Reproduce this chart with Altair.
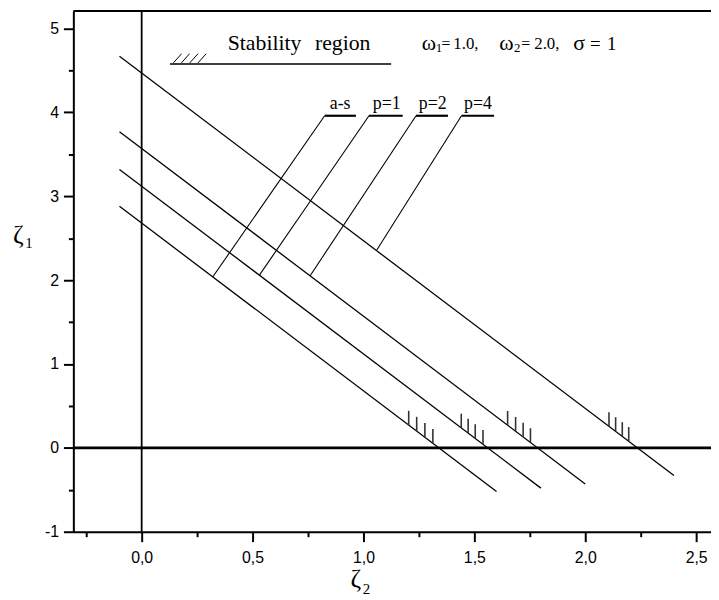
import altair as alt
import pandas as pd

# ---- curves (straight stability boundaries) ----
curve_names = ["a-s", "p=1", "p=2", "p=4"]
x_start = [-0.1, -0.1, -0.1, -0.1]
y_start = [2.88, 3.32, 3.77, 4.67]
x_end = [1.60, 1.80, 2.00, 2.40]
y_end = [-0.52, -0.48, -0.43, -0.33]

# hatch ticks near the zero crossing of each curve
hatch_x = [
    [1.204, 1.240, 1.277, 1.313],
    [1.441, 1.472, 1.504, 1.539],
    [1.650, 1.686, 1.720, 1.753],
    [2.107, 2.137, 2.167, 2.196],
]
hatch_len = 0.17

# leader lines from curve to label underline
leader_x0 = [0.321, 0.531, 0.759, 1.058]
leader_y0 = [2.04, 2.06, 2.05, 2.35]
leader_x1 = [0.825, 1.025, 1.237, 1.442]
leader_y1 = [3.96, 3.96, 3.96, 3.96]
underline_x2 = [0.966, 1.177, 1.381, 1.589]
label_x = [0.895, 1.105, 1.3125, 1.516]
label_y = [4.044, 4.044, 4.044, 4.044]

# legend "Stability region" symbol
legend_line_x = [0.128, 1.125]
legend_line_y = 4.578
legend_hatch_x0 = [0.143, 0.179, 0.217, 0.254]
legend_hatch_x1 = [0.180, 0.216, 0.254, 0.291]
legend_hatch_y0 = 4.59
legend_hatch_y1 = 4.70

# free annotation texts
ann_text = ["Stability", "region", "ω", "1", "=", "1.0,", "ω", "2", "=", "2.0,",
            "σ", "=", "1", "ζ", "1", "ζ", "2"]
ann_x = [0.388, 0.781, 1.263, 1.326, 1.352, 1.405, 1.612, 1.679, 1.712, 1.770,
         1.946, 2.022, 2.098, -0.580, -0.525, 0.942, 0.997]
ann_y = [4.748, 4.748, 4.748, 4.716, 4.752, 4.752, 4.748, 4.716, 4.752, 4.752,
         4.748, 4.748, 4.748, 2.438, 2.379, -1.66, -1.74]
ann_size = [22, 22, 22, 13, 16, 17, 22, 13, 16, 17, 22, 19, 19, 26, 15, 26, 15]

x_major = [0.0, 0.5, 1.0, 1.5, 2.0, 2.5]
x_minor = [-0.25, 0.25, 0.75, 1.25, 1.75, 2.25]
y_major = [-1, 0, 1, 2, 3, 4, 5]
y_minor = [-0.5, 0.5, 1.5, 2.5, 3.5, 4.5]

X_DOMAIN = [-0.308, 2.567]
Y_DOMAIN = [-1.0, 5.21]
W, H = 644, 526

# ---- build tables ----
rows = []
for n, xs, ys, xe, ye in zip(curve_names, x_start, y_start, x_end, y_end):
    rows.append({"curve": n, "x": xs, "y": ys})
    rows.append({"curve": n, "x": xe, "y": ye})
curves_df = pd.DataFrame(rows)

hrows = []
for n, xs, ys, xe, ye, hx in zip(curve_names, x_start, y_start, x_end, y_end, hatch_x):
    slope = (ye - ys) / (xe - xs)
    for h in hx:
        base = ys + slope * (h - xs)
        hrows.append({"x": h, "y": base, "y2": base + hatch_len})
hatch_df = pd.DataFrame(hrows)

leader_df = pd.DataFrame({"x": leader_x0, "y": leader_y0, "x2": leader_x1, "y2": leader_y1})
under_df = pd.DataFrame({"x": leader_x1, "x2": underline_x2, "y": leader_y1})
labels_df = pd.DataFrame({"x": label_x, "y": label_y, "t": curve_names})
leg_line_df = pd.DataFrame({"x": [legend_line_x[0]], "x2": [legend_line_x[1]], "y": [legend_line_y]})
leg_hatch_df = pd.DataFrame({"x": legend_hatch_x0, "x2": legend_hatch_x1,
                             "y": [legend_hatch_y0] * 4, "y2": [legend_hatch_y1] * 4})
ann_df = pd.DataFrame({"x": ann_x, "y": ann_y, "t": ann_text, "s": ann_size})

xs_ = alt.Scale(domain=X_DOMAIN, nice=False, zero=False)
ys_ = alt.Scale(domain=Y_DOMAIN, nice=False, zero=False)

ax_common = dict(grid=False, title=None, domainColor="black", tickColor="black",
                 labelColor="black", labelFont="Liberation Sans", labelFontSize=16,
                 domainWidth=2, tickWidth=2)

x_major_axis = alt.Axis(orient="bottom", values=x_major, tickSize=10, labelPadding=8,
                        labelExpr="replace(format(datum.value, '.1f'), '.', ',')",
                        **ax_common)
y_major_axis = alt.Axis(orient="left", values=y_major, tickSize=10, labelPadding=5,
                        labelExpr="datum.value + ''", **ax_common)
x_minor_axis = alt.Axis(orient="bottom", values=x_minor, tickSize=5, labels=False,
                        domain=False, grid=False, title=None, tickColor="black", tickWidth=2)
y_minor_axis = alt.Axis(orient="left", values=y_minor, tickSize=5, labels=False,
                        domain=False, grid=False, title=None, tickColor="black", tickWidth=2)

curves = alt.Chart(curves_df).mark_line(color="black", strokeWidth=1.3).encode(
    x=alt.X("x:Q", scale=xs_, axis=x_major_axis),
    y=alt.Y("y:Q", scale=ys_, axis=y_major_axis),
    detail="curve:N",
)

hatch = alt.Chart(hatch_df).mark_rule(color="#333333", strokeWidth=1.6).encode(
    x=alt.X("x:Q", scale=xs_, axis=x_minor_axis),
    y=alt.Y("y:Q", scale=ys_, axis=y_minor_axis),
    y2="y2:Q",
)

leaders = alt.Chart(leader_df).mark_rule(color="black", strokeWidth=1.1).encode(
    x=alt.X("x:Q", scale=xs_, axis=None),
    y=alt.Y("y:Q", scale=ys_, axis=None),
    x2="x2:Q", y2="y2:Q",
)

unders = alt.Chart(under_df).mark_rule(color="black", strokeWidth=2.2).encode(
    x=alt.X("x:Q", scale=xs_, axis=None),
    x2="x2:Q",
    y=alt.Y("y:Q", scale=ys_, axis=None),
)

leg_line = alt.Chart(leg_line_df).mark_rule(color="black", strokeWidth=1.5).encode(
    x=alt.X("x:Q", scale=xs_, axis=None),
    x2="x2:Q",
    y=alt.Y("y:Q", scale=ys_, axis=None),
)

leg_hatch = alt.Chart(leg_hatch_df).mark_rule(color="black", strokeWidth=1).encode(
    x=alt.X("x:Q", scale=xs_, axis=None),
    y=alt.Y("y:Q", scale=ys_, axis=None),
    x2="x2:Q", y2="y2:Q",
)

zero_v = alt.Chart(pd.DataFrame({"x": [0.0]})).mark_rule(color="black", strokeWidth=1.8).encode(
    x=alt.X("x:Q", scale=xs_, axis=None),
)
zero_h = alt.Chart(pd.DataFrame({"y": [0.0]})).mark_rule(color="black", strokeWidth=3).encode(
    y=alt.Y("y:Q", scale=ys_, axis=None),
)

top_border = alt.Chart(pd.DataFrame({"k": [0]})).mark_rule(color="black", strokeWidth=2).encode(
    x=alt.value(0), x2=alt.value(W), y=alt.value(0),
)

labels = alt.Chart(labels_df).mark_text(
    align="center", baseline="alphabetic", font="Liberation Serif", fontSize=18, color="black"
).encode(
    x=alt.X("x:Q", scale=xs_, axis=None),
    y=alt.Y("y:Q", scale=ys_, axis=None),
    text="t:N",
)

ann = alt.Chart(ann_df).mark_text(
    align="left", baseline="alphabetic", font="Liberation Serif", color="black"
).encode(
    x=alt.X("x:Q", scale=xs_, axis=None),
    y=alt.Y("y:Q", scale=ys_, axis=None),
    text="t:N",
    size=alt.Size("s:Q", scale=None, legend=None),
)

chart = alt.layer(
    zero_h, zero_v, curves, hatch, leaders, unders, leg_line, leg_hatch, labels, ann, top_border
).resolve_axis(
    x="independent", y="independent"
).properties(
    width=W, height=H,
    autosize=alt.AutoSizeParams(type="none"),
    padding={"left": 66, "top": 0, "right": 0, "bottom": 66},
    background="white",
).configure_view(stroke=None)

chart.save("out.html", embed_options={"renderer": "svg", "actions": False})
